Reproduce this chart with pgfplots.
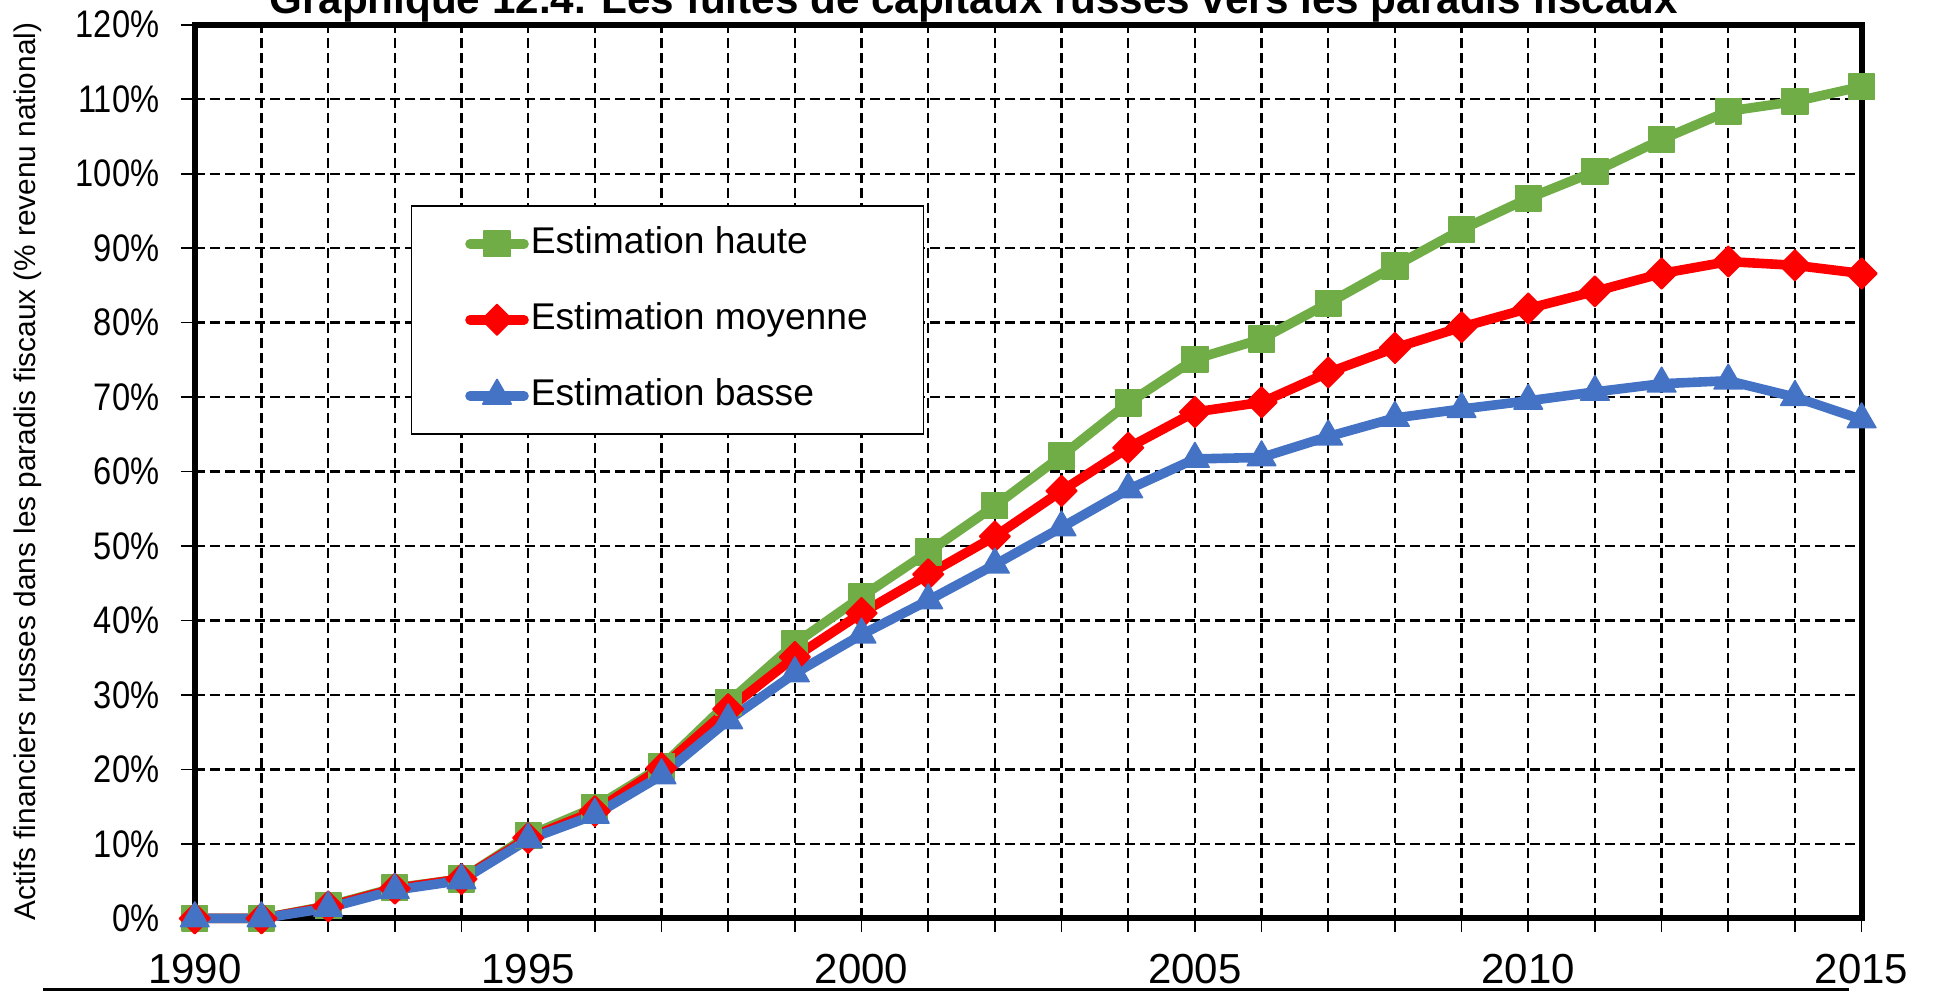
\documentclass[border=0pt]{standalone}
\usepackage{fontspec}
\setmainfont{Liberation Sans}
\usepackage{pgfplots}
\pgfplotsset{compat=1.18}

\definecolor{cgreen}{HTML}{70AD47}
\definecolor{cred}{HTML}{FF0000}
\definecolor{cblue}{HTML}{4472C4}

\begin{document}
\begin{tikzpicture}
% page = 1933 x 993 px at 0.25pt/px
\useasboundingbox (-48.7pt,-18.65pt) rectangle (434.55pt,229.6pt);
\begin{axis}[
    scale only axis,
    width=416.7pt, height=223.4pt,
    xmin=1990, xmax=2015,
    ymin=0, ymax=120,
    xtick={1990,...,2015},
    xticklabels={1990,,,,,1995,,,,,2000,,,,,2005,,,,,2010,,,,,2015},
    ytick={0,10,...,120},
    yticklabel={\pgfmathprintnumber{\tick}\%},
    /pgf/number format/assume math mode=true,
    tick align=outside, tick pos=left,
    major tick length=3.5pt,
    tick style={black, line width=0.4pt},
    axis line style={line width=1.5pt},
    grid=major,
    major grid style={black, line width=0.6pt, dash pattern=on 2.5pt off 1.25pt},
    xticklabel style={font=\fontsize{10.5}{12}\selectfont, yshift=-1.8pt},
    yticklabel style={font=\fontsize{9.6}{11}\selectfont, xscale=0.85, xshift=-2.8pt},
    ylabel={Actifs financiers russes dans les paradis fiscaux (\% revenu national)},
    ylabel style={font=\fontsize{7.45}{9}\selectfont, yshift=2.2pt},
    clip=false,
    legend cell align=left,
    legend style={at={(axis cs:1993.24,95.8)}, anchor=north west, draw=black,
        line width=0.4pt, font=\fontsize{9.3}{11}\selectfont,
        inner xsep=13.4pt, inner ysep=3pt, row sep=6pt,
        nodes={text height=7pt, text depth=2pt, inner ysep=2pt, inner xsep=0.5pt}},
    legend image code/.code={\draw[mark repeat=2, mark phase=2, line cap=round, #1]
        plot coordinates {(0pt,0pt) (6.75pt,0pt) (13.5pt,0pt)};},
    every axis plot/.append style={line width=2.4pt, line join=round},
]
\addplot[cgreen, mark=square*, mark size=3.2pt, mark options={solid, line width=0.4pt}] coordinates {
(1990,0) (1991,0) (1992,1.7) (1993,4.1) (1994,5.3) (1995,11.1) (1996,14.9) (1997,20.4)
(1998,29.0) (1999,36.9) (2000,43.2) (2001,49.2) (2002,55.4) (2003,62.1) (2004,69.2)
(2005,75.1) (2006,77.8) (2007,82.6) (2008,87.6) (2009,92.5) (2010,96.7) (2011,100.3)
(2012,104.6) (2013,108.4) (2014,109.7) (2015,111.7)};
\addlegendentry{Estimation haute}
\addplot[cred, mark=square*, mark size=2.7pt, mark options={solid, rotate=45, line width=0.4pt}] coordinates {
(1990,0) (1991,0) (1992,1.6) (1993,4.0) (1994,5.3) (1995,10.8) (1996,14.4) (1997,20.2)
(1998,28.1) (1999,35.1) (2000,41.0) (2001,46.2) (2002,51.3) (2003,57.4) (2004,63.2)
(2005,68.0) (2006,69.3) (2007,73.3) (2008,76.6) (2009,79.4) (2010,81.9) (2011,84.2)
(2012,86.6) (2013,88.2) (2014,87.7) (2015,86.6)};
\addlegendentry{Estimation moyenne}
\addplot[cblue, mark=triangle*, mark size=4.1pt, mark options={solid, line width=0.4pt}] coordinates {
(1990,0) (1991,0) (1992,1.4) (1993,3.8) (1994,5.1) (1995,10.6) (1996,13.9) (1997,19.2)
(1998,26.6) (1999,32.9) (2000,38.1) (2001,42.7) (2002,47.5) (2003,52.5) (2004,57.6)
(2005,61.7) (2006,61.9) (2007,64.7) (2008,67.2) (2009,68.4) (2010,69.5) (2011,70.7)
(2012,71.8) (2013,72.2) (2014,70.0) (2015,67.0)};
\addlegendentry{Estimation basse}
\end{axis}
\node[anchor=base, font=\bfseries\fontsize{10.55}{12}\selectfont] at (194.75pt,226.3pt)
    {Graphique 12.4. Les fuites de capitaux russes vers les paradis fiscaux};
\draw[black, line width=0.75pt] (-38pt,-17.9pt) -- (413.5pt,-17.9pt);
\end{tikzpicture}
\end{document}
